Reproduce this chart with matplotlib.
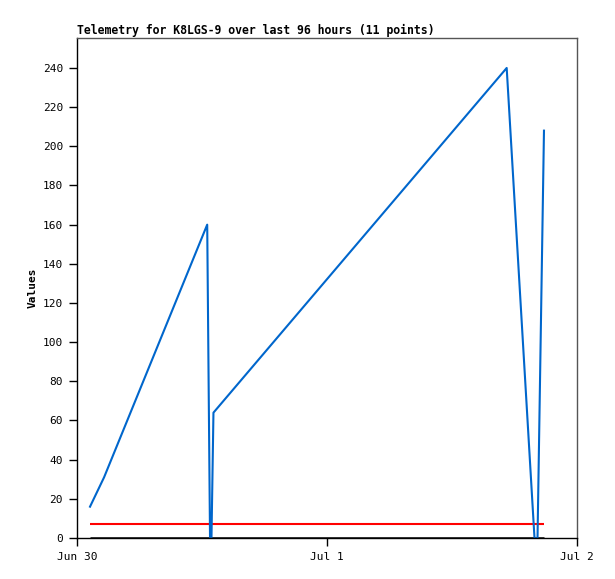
import matplotlib
matplotlib.use("Agg")
import matplotlib.pyplot as plt
from datetime import datetime, timedelta

# Data (hours after Jun 30 00:00)
hours = [1.25, 2.6, 12.5, 12.77, 12.91, 13.1, 41.25, 43.92, 44.21, 44.83]
values = [16, 31, 160, 0, 0, 64, 240, 0, 0, 208]
ref_red = 7
ref_black = 0
tick_labels = ["Jun 30", "Jul 1", "Jul 2"]
tick_days = [0, 1, 2]

base = datetime(2023, 6, 30)
times = [base + timedelta(hours=h) for h in hours]

plt.rcParams['font.family'] = ['DejaVu Sans Mono']
fig = plt.figure(figsize=(6.15, 5.79), dpi=100)
ax = fig.add_axes([77/615, 1-538/579, 500/615, 500/579])

ax.plot([times[0], times[-1]], [ref_black, ref_black], color='black', lw=1.8, solid_capstyle='butt')
ax.plot([times[0], times[-1]], [ref_red, ref_red], color='#ff0000', lw=1.5, solid_capstyle='butt')
ax.plot(times, values, color='#0066cc', lw=1.5)

ax.set_xlim(base, base + timedelta(days=2))
ax.set_ylim(0, 255.3)
ax.set_yticks(range(0, 241, 20))
ax.set_xticks([base + timedelta(days=d) for d in tick_days])
ax.set_xticklabels(tick_labels)
ax.tick_params(direction='out', length=6, width=1, labelsize=8, pad=4)
for s in ['top', 'right']:
    ax.spines[s].set_color('#555555')
    ax.spines[s].set_linewidth(1)
for s in ['left', 'bottom']:
    ax.spines[s].set_color('black')
    ax.spines[s].set_linewidth(1)

ax.set_ylabel("Values", fontsize=8, fontweight='bold', labelpad=4)
ax.set_title("Telemetry for K8LGS-9 over last 96 hours (11 points)", fontsize=8.3,
             fontweight='bold', loc='left', pad=3)

fig.savefig("out.png", dpi=100)
